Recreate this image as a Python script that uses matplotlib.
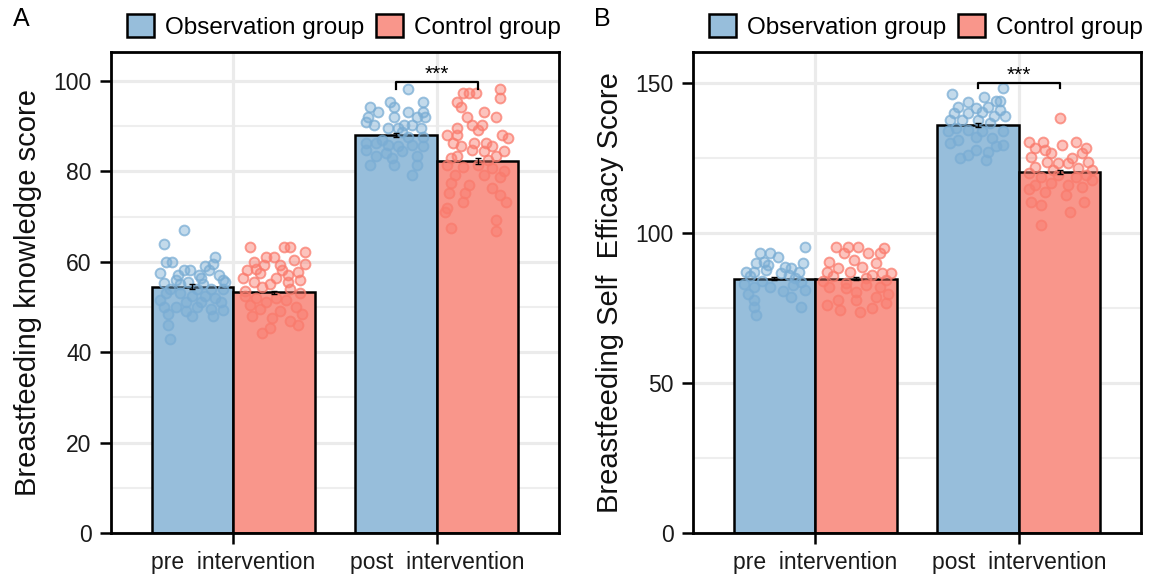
"""
Bar + jitter chart: breastfeeding knowledge (A) and self efficacy (B)
before and after the intervention, observation vs control group.
"""
import matplotlib.pyplot as plt
from matplotlib.patches import Patch
from matplotlib.colors import to_rgba
import numpy as np

plt.rcParams['font.family'] = ['Liberation Sans', 'DejaVu Sans']

stages = ["pre  intervention", "post  intervention"]
groups = ["Observation group", "Control group"]

# ---- Panel A: Breastfeeding knowledge score ----
know_obs_mean = [54.5, 88.0]
know_ctrl_mean = [53.2, 82.3]
know_obs_se = [0.5, 0.5]
know_ctrl_se = [0.4, 0.6]

know_pre_obs = [67, 64, 60, 60, 61, 59.5, 58.2, 58.2, 58.2, 57, 57, 56, 55.3, 56.5, 56, 55.5,
                55, 54, 54, 54, 54, 53, 53, 52.5, 52.5, 52, 51.5, 51, 51, 51, 50, 50, 50,
                49.5, 49.3, 49, 48.5, 48, 48, 46, 43, 55, 57, 57.5, 55.5, 59]
know_pre_obs_jit = [-0.04, -0.14, -0.13, -0.10, 0.11, 0.10, -0.04, -0.01, 0.08, -0.07, 0.13, 0.15,
                    -0.14, 0.04, -0.08, -0.02, 0.05, -0.11, 0.02, 0.09, 0.15, -0.13, -0.06, 0.0,
                    0.06, 0.11, -0.16, -0.03, 0.04, 0.14, -0.08, -0.14, 0.02, 0.09, 0.15, -0.03,
                    -0.12, 0.0, 0.10, -0.12, -0.11, -0.06, 0.03, -0.16, 0.16, 0.06]
know_pre_ctrl = [63.2, 63.2, 63.2, 62.2, 61.1, 61.1, 60, 60.4, 58.2, 57.5, 59.3, 59.3, 58.2, 57.8,
                 56.4, 55.6, 56.4, 55.6, 56, 55, 54.5, 54, 53.5, 53, 52, 52, 51.5, 51, 50.5, 50,
                 49.5, 49, 48.5, 48, 47.5, 47, 46, 45.4, 44.2, 52.5, 57, 59.5, 58.5]
know_pre_ctrl_jit = [-0.12, 0.05, 0.08, 0.15, -0.04, 0.0, -0.10, 0.10, -0.13, -0.07, -0.05, 0.03,
                     0.04, 0.12, -0.15, -0.10, 0.01, 0.07, 0.13, -0.02, -0.06, 0.08, -0.14, 0.13,
                     -0.09, 0.01, 0.06, -0.04, -0.12, 0.11, -0.07, 0.03, 0.14, -0.11, -0.01, 0.08,
                     0.12, -0.02, -0.06, -0.14, 0.07, 0.15, -0.09]
know_post_obs = [98.2, 94.3, 93.2, 95.4, 94.3, 95.4, 93.2, 93.2, 92.1, 92.1, 92.1, 92.1, 91.0,
                 90.3, 90.3, 90.3, 89.6, 89.6, 89.6, 88.8, 87.7, 86.2, 86.2, 85.8, 85.5, 85.8,
                 85.5, 83.3, 82.9, 83.3, 81.4, 81.4, 81.4, 79.2, 84.0, 84.4, 84.7, 87.0, 87.5]
know_post_obs_jit = [0.06, -0.13, -0.09, -0.03, -0.01, 0.13, 0.06, 0.13, -0.14, -0.01, 0.10, 0.14,
                     -0.15, -0.11, 0.04, 0.08, -0.04, 0.01, 0.12, 0.03, 0.13, -0.15, -0.10, -0.04,
                     0.01, 0.08, 0.13, -0.10, -0.02, 0.10, -0.13, -0.01, 0.10, 0.08, -0.05, 0.03,
                     -0.15, -0.07, 0.06]
know_post_ctrl = [97.3, 97.3, 97.3, 98.2, 96.2, 95.4, 94.3, 93.2, 92.1, 92.1, 89.6, 90.3, 90.3,
                  89.2, 88.0, 88.0, 88.0, 87.3, 86.2, 86.2, 86.2, 85.5, 85.5, 84.7, 84.4, 84.4,
                  83.3, 83.3, 81.4, 81.0, 81.4, 80.7, 79.2, 79.2, 78.8, 77.4, 77.0, 76.3, 75.2,
                  75.2, 74.8, 73.3, 73.3, 71.9, 71.1, 69.2, 67.5, 66.7, 82.5, 83.0, 80.0]
know_post_ctrl_jit = [-0.07, -0.04, -0.01, 0.11, 0.11, -0.10, -0.08, 0.03, 0.09, -0.05, -0.10,
                      -0.03, 0.02, 0.0, -0.15, -0.10, 0.12, 0.15, -0.12, -0.02, 0.04, -0.08, 0.07,
                      -0.03, 0.13, 0.03, -0.10, 0.09, -0.15, -0.07, 0.0, 0.07, -0.11, 0.03, 0.11,
                      -0.13, -0.04, 0.07, -0.14, -0.06, 0.11, -0.07, 0.14, -0.15, -0.16, 0.09,
                      -0.13, 0.09, 0.05, -0.13, 0.13]

# ---- Panel B: Breastfeeding self efficacy score ----
eff_obs_mean = [84.8, 136.0]
eff_ctrl_mean = [84.8, 120.3]
eff_obs_se = [0.5, 0.6]
eff_ctrl_se = [0.5, 0.6]

eff_pre_obs = [95.4, 93.2, 93.2, 92.1, 90.4, 89.9, 89.3, 88.8, 89.9, 87.1, 87.1, 87.7, 88.2, 87.1,
               86.6, 86.0, 85.5, 85.0, 84.0, 83.5, 82.1, 82.1, 82.7, 80.5, 79.5, 77.7, 75.4, 72.8,
               75.2, 78.5, 81.0, 83.0]
eff_pre_obs_jit = [0.15, -0.07, -0.02, 0.02, -0.05, -0.09, -0.03, 0.05, 0.14, -0.14, -0.10, -0.04,
                   0.08, 0.12, 0.03, 0.07, -0.12, 0.10, -0.06, 0.13, -0.10, -0.02, 0.09, 0.04,
                   -0.13, -0.10, -0.10, -0.09, 0.13, 0.08, 0.15, -0.15]
eff_pre_ctrl = [95.4, 95.4, 95.4, 94.9, 93.2, 93.2, 93.2, 90.4, 91.0, 89.9, 88.8, 88.2, 87.1, 86.6,
                86.6, 87.1, 86.0, 85.5, 85.0, 84.0, 84.3, 83.2, 82.1, 81.5, 82.7, 82.1, 80.3, 79.5,
                77.7, 77.7, 78.8, 76.0, 74.3, 73.8, 74.9, 76.5]
eff_pre_ctrl_jit = [-0.10, -0.04, 0.01, 0.14, 0.12, 0.06, -0.06, -0.13, -0.01, 0.10, 0.03, -0.09,
                    -0.14, 0.13, 0.17, -0.03, 0.08, -0.11, 0.05, -0.16, 0.15, -0.05, -0.13, -0.05,
                    0.05, 0.12, 0.0, 0.16, -0.09, 0.0, 0.10, -0.14, -0.08, 0.02, 0.08, 0.15]
eff_post_obs = [148.2, 146.3, 145.4, 143.6, 143.8, 143.8, 142.1, 141.6, 142.1, 141.0, 139.9, 139.9,
                140.4, 138.8, 138.8, 137.7, 137.7, 137.7, 136.5, 135.0, 133.8, 134.3, 133.8, 133.8,
                131.0, 132.1, 131.6, 129.3, 128.8, 127.7, 127.1, 124.9, 124.3, 130.0, 126.0]
eff_post_obs_jit = [0.12, -0.13, 0.03, -0.05, 0.09, 0.11, -0.10, -0.01, 0.05, 0.11, -0.12, -0.05,
                    0.02, 0.08, 0.13, -0.14, -0.08, 0.0, 0.06, -0.11, -0.15, -0.05, 0.02, 0.12,
                    -0.10, -0.01, 0.07, 0.12, 0.09, -0.01, 0.05, -0.09, 0.04, -0.14, -0.05]
eff_post_ctrl = [138.2, 130.4, 130.4, 128.2, 127.7, 129.3, 130.4, 128.2, 126.6, 126.6, 125.4, 124.9,
                 123.8, 123.3, 123.3, 123.8, 122.1, 121.6, 119.9, 118.8, 119.3, 118.8, 119.3, 116.0,
                 116.6, 116.0, 115.4, 113.8, 112.7, 110.4, 109.3, 110.4, 107.1, 102.7, 121.0, 121.0,
                 117.5, 114.5]
eff_post_ctrl_jit = [0.0, -0.15, -0.08, -0.12, -0.07, 0.01, 0.08, 0.13, -0.04, 0.11, -0.14, 0.06,
                     -0.06, -0.01, 0.04, 0.14, -0.12, 0.09, -0.15, -0.09, -0.01, 0.08, 0.13, -0.12,
                     -0.04, 0.04, 0.11, -0.07, 0.03, -0.14, -0.09, 0.12, 0.05, -0.09, -0.03, 0.16,
                     0.16, -0.15]

bar_colors = ["#97BEDB", "#F9968B"]
point_colors = ["#7AADD4", "#FA7B6D"]


def draw_panel(ax, obs_mean, ctrl_mean, obs_se, ctrl_se, points, ylim, yticks, yminor,
               ylabel, bracket_y, letter):
    x = np.arange(1, len(stages) + 1)
    w = 0.4
    means = [obs_mean, ctrl_mean]
    ses = [obs_se, ctrl_se]

    # grid (ggplot-like)
    for v in yminor:
        ax.axhline(v, color="#EEEEEE", lw=1.5, zorder=0)
    for v in yticks:
        ax.axhline(v, color="#EBEBEB", lw=2.3, zorder=0)
    for v in x:
        ax.axvline(v, color="#EBEBEB", lw=2.3, zorder=0)

    for g in range(2):
        pos = x + (g - 0.5) * w
        ax.bar(pos, means[g], width=w, color=bar_colors[g], edgecolor="black",
               linewidth=1.8, zorder=2)
        for s in range(len(stages)):
            vals, jit = points[s][g]
            ax.scatter(pos[s] + np.array(jit), vals, s=50,
                       facecolor=to_rgba(point_colors[g], 0.45),
                       edgecolor=to_rgba(point_colors[g], 0.75),
                       linewidths=1.4, zorder=3)
        ax.errorbar(pos, means[g], yerr=ses[g], fmt="none", ecolor="black",
                    elinewidth=1.0, capsize=2, zorder=4)

    # significance bracket on post intervention
    x0, x1 = x[1] - w / 2, x[1] + w / 2
    top, drop = bracket_y
    ax.plot([x0, x0, x1, x1], [drop, top, top, drop], color="black", lw=1.6, zorder=5)
    ax.text(x[1], top - (ylim[1] - ylim[0]) * 0.004, "***", ha="center", va="bottom",
            fontsize=15, zorder=5)

    ax.set_xlim(0.4, 2.6)
    ax.set_ylim(*ylim)
    ax.set_xticks(x)
    ax.set_xticklabels(stages)
    ax.set_yticks(yticks)
    ax.set_ylabel(ylabel, fontsize=21, labelpad=8, color="#111111")
    ax.tick_params(axis="both", labelsize=16.5, length=8, width=1.8, color="black",
                   labelcolor="#1A1A1A")
    ax.tick_params(axis="x", pad=5)
    ax.tick_params(axis="y", pad=6)
    for sp in ax.spines.values():
        sp.set_linewidth(2.0)
        sp.set_color("black")
        sp.set_zorder(6)

    handles = [Patch(facecolor=bar_colors[0], edgecolor="black", linewidth=1.8),
               Patch(facecolor=bar_colors[1], edgecolor="black", linewidth=1.8)]
    ax.legend(handles, groups, loc="center", bbox_to_anchor=(0.52, 1.053), ncol=2,
              frameon=False, fontsize=17.5, handlelength=1.1, handleheight=1.1,
              handletextpad=0.45, columnspacing=0.5, borderaxespad=0)
    ax.text(-0.22, 1.069, letter, transform=ax.transAxes, fontsize=18, ha="left", va="center")


fig = plt.figure(figsize=(11.53, 5.82), dpi=100)
axA = fig.add_axes([0.0963, 0.0842, 0.3886, 0.8265])
axB = fig.add_axes([0.6010, 0.0842, 0.3886, 0.8265])

know_points = [[(know_pre_obs, know_pre_obs_jit), (know_pre_ctrl, know_pre_ctrl_jit)],
               [(know_post_obs, know_post_obs_jit), (know_post_ctrl, know_post_ctrl_jit)]]
eff_points = [[(eff_pre_obs, eff_pre_obs_jit), (eff_pre_ctrl, eff_pre_ctrl_jit)],
              [(eff_post_obs, eff_post_obs_jit), (eff_post_ctrl, eff_post_ctrl_jit)]]

draw_panel(axA, know_obs_mean, know_ctrl_mean, know_obs_se, know_ctrl_se, know_points,
           (0, 106.4), [0, 20, 40, 60, 80, 100], [10, 30, 50, 70, 90],
           "Breastfeeding knowledge score", (99.8, 98.2), "A")
draw_panel(axB, eff_obs_mean, eff_ctrl_mean, eff_obs_se, eff_ctrl_se, eff_points,
           (0, 160.3), [0, 50, 100, 150], [25, 75, 125],
           "Breastfeeding Self  Efficacy Score", (150.1, 148.2), "B")

fig.savefig("out.png", dpi=100)
